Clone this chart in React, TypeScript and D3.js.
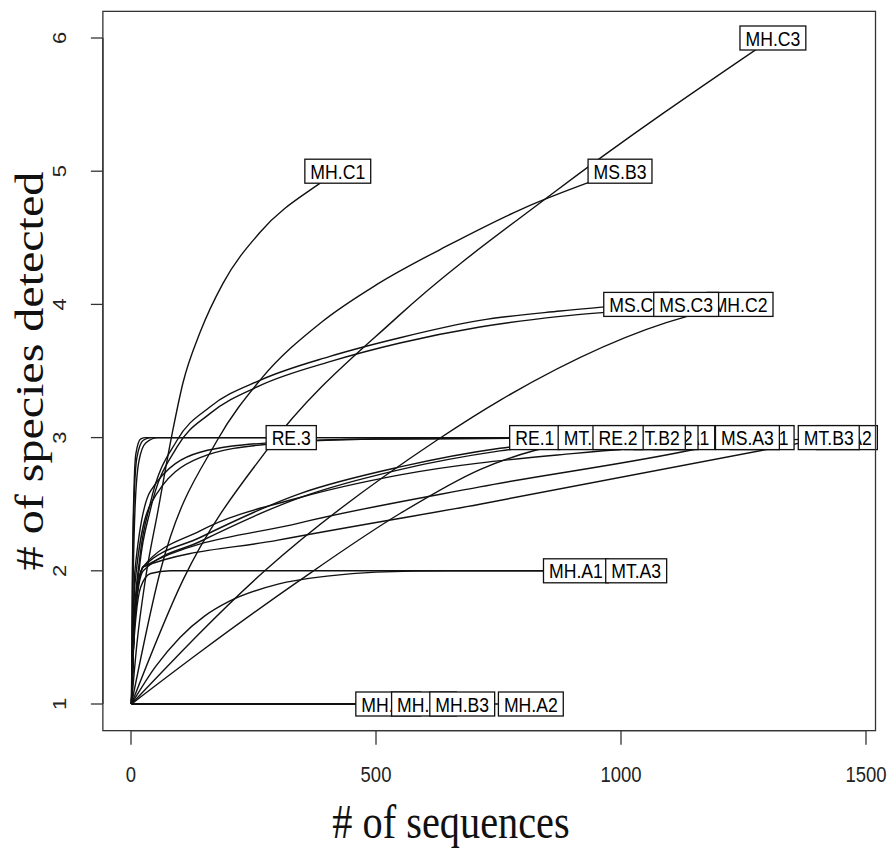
import React, { useEffect, useRef } from "react";
import * as d3 from "d3";

type Pt = [number, number];

// axis ticks
const xTicks = [0, 500, 1000, 1500];
const yTicks = [1, 2, 3, 4, 5, 6];

// rarefaction curves: [# of sequences, # of species]
const mhC1: Pt[] = [[1, 1], [12, 1.45], [30, 1.95], [55, 2.45], [84, 3.03], [106, 3.41], [141, 3.79], [188, 4.16], [263, 4.54], [386, 4.91], [422, 5]];
const msB3: Pt[] = [[1, 1], [60, 2.0], [176, 2.98], [263, 3.43], [390, 3.87], [502, 4.15], [651, 4.45], [794, 4.71], [998, 5]];
const mhC3: Pt[] = [[1, 1], [106, 1.93], [278, 2.91], [545, 3.91], [863, 4.84], [1310, 6]];
const msC2: Pt[] = [[1, 1], [6, 1.6], [18, 2.1], [39, 2.5], [94, 2.98], [161, 3.23], [263, 3.43], [406, 3.61], [549, 3.75], [712, 3.88], [876, 3.95], [1031, 4]];
const mhC2: Pt[] = [[1, 1], [273, 2.0], [624, 2.98], [753, 3.28], [1135, 3.91], [1243, 4]];
const msC3: Pt[] = [[1, 1], [6, 1.55], [18, 2.05], [39, 2.45], [94, 2.93], [161, 3.18], [263, 3.39], [406, 3.57], [549, 3.71], [712, 3.83], [876, 3.91], [1031, 3.96], [1133, 4]];
const re3: Pt[] = [[1, 1], [3, 2.0], [6, 2.6], [10, 2.88], [20, 2.99], [30, 3], [327, 3]];
const re1: Pt[] = [[1, 1], [3, 1.9], [6, 2.5], [12, 2.85], [25, 2.98], [40, 3], [824, 3]];
const mtC2: Pt[] = [[1, 1], [141, 1.39], [345, 1.93], [549, 2.43], [712, 2.76], [935, 3]];
const mtA1: Pt[] = [[1, 1], [8, 2.0], [40, 2.6], [141, 2.89], [278, 2.96], [500, 2.99], [1129, 3]];
const msA2: Pt[] = [[1, 1], [8, 1.65], [25, 2.0], [141, 2.22], [345, 2.55], [549, 2.76], [753, 2.9], [1092, 3]];
const mtB2: Pt[] = [[1, 1], [8, 1.7], [25, 2.03], [141, 2.25], [345, 2.58], [549, 2.78], [753, 2.92], [1069, 3]];
const re2: Pt[] = [[1, 1], [4, 1.85], [8, 2.45], [16, 2.82], [30, 2.96], [55, 3], [994, 3]];
const msB1: Pt[] = [[1, 1], [8, 1.9], [40, 2.5], [141, 2.85], [278, 2.95], [500, 2.99], [1288, 3]];
const msA3: Pt[] = [[1, 1], [8, 1.65], [25, 2.03], [345, 2.36], [712, 2.63], [1161, 2.92], [1258, 3]];
const mtA2: Pt[] = [[1, 1], [8, 1.7], [25, 2.03], [141, 2.3], [345, 2.55], [549, 2.72], [900, 2.88], [1200, 2.96], [1461, 3]];
const mtB3: Pt[] = [[1, 1], [8, 1.65], [25, 2.03], [300, 2.23], [712, 2.5], [1424, 3]];
const mhA1: Pt[] = [[1, 1], [5, 1.4], [10, 1.65], [20, 1.88], [40, 1.98], [80, 2], [908, 2]];
const mtA3: Pt[] = [[1, 1], [50, 1.28], [100, 1.5], [150, 1.66], [200, 1.77], [300, 1.9], [400, 1.96], [500, 1.99], [650, 2], [1031, 2]];
const mhB1: Pt[] = [[1, 1], [525, 1]];
const mhB2: Pt[] = [[1, 1], [598, 1]];
const mhB3: Pt[] = [[1, 1], [676, 1]];
const mhA2: Pt[] = [[1, 1], [816, 1]];

// sample order (labels are drawn in this order, later ones on top)
const samples = [
  { name: "MH.C1", pts: mhC1 },
  { name: "MS.B3", pts: msB3 },
  { name: "MH.C3", pts: mhC3 },
  { name: "MS.C2", pts: msC2 },
  { name: "MH.C2", pts: mhC2 },
  { name: "MS.C3", pts: msC3 },
  { name: "RE.3", pts: re3 },
  { name: "RE.1", pts: re1 },
  { name: "MT.C2", pts: mtC2 },
  { name: "MT.A1", pts: mtA1 },
  { name: "MS.A2", pts: msA2 },
  { name: "MT.B2", pts: mtB2 },
  { name: "RE.2", pts: re2 },
  { name: "MS.B1", pts: msB1 },
  { name: "MS.A3", pts: msA3 },
  { name: "MT.A2", pts: mtA2 },
  { name: "MT.B3", pts: mtB3 },
  { name: "MH.A1", pts: mhA1 },
  { name: "MT.A3", pts: mtA3 },
  { name: "MH.B1", pts: mhB1 },
  { name: "MH.B2", pts: mhB2 },
  { name: "MH.B3", pts: mhB3 },
  { name: "MH.A2", pts: mhA2 },
];

const SANS = "'Liberation Sans', Arial, Helvetica, sans-serif";
const SERIF = "'Liberation Serif', 'Times New Roman', Times, serif";
const SQUEEZE = 0.84; // the picture is squeezed horizontally

function drawChart(svgEl: SVGSVGElement) {
  const svg = d3.select(svgEl);
  svg.selectAll("*").remove();

  const x = d3.scaleLinear().domain([0, 1500]).range([131, 866]);
  const y = d3.scaleLinear().domain([1, 6]).range([704, 38]);

  // R style 4% padding around the data range
  const nMax = d3.max(samples, (s) => s.pts[s.pts.length - 1][0]) as number;
  const xLo = 1 - 0.04 * (nMax - 1);
  const xHi = nMax + 0.04 * (nMax - 1);
  const yLo = 1 - 0.04 * 5;
  const yHi = 6 + 0.04 * 5;

  const left = x(xLo);
  const right = x(xHi);
  const top = y(yHi);
  const bottom = y(yLo);

  // curves
  const line = d3
    .line<Pt>()
    .x((d) => x(d[0]))
    .y((d) => y(d[1]))
    .curve(d3.curveMonotoneX);

  svg
    .append("g")
    .selectAll("path")
    .data(samples)
    .enter()
    .append("path")
    .attr("d", (d) => line(d.pts))
    .attr("fill", "none")
    .attr("stroke", "#111")
    .attr("stroke-width", 1.4);

  // labels: white boxes centred on each curve end
  const lab = svg.append("g");
  samples.forEach((s) => {
    const end = s.pts[s.pts.length - 1];
    const g = lab.append("g").attr("transform", `translate(${x(end[0])},${y(end[1])})`);
    const rect = g.append("rect");
    const t = g
      .append("text")
      .attr("transform", `scale(${SQUEEZE},1)`)
      .attr("text-anchor", "middle")
      .attr("dy", "0.36em")
      .style("font-family", SANS)
      .style("font-size", "21px")
      .style("fill", "#000")
      .text(s.name);
    const w = (t.node() as SVGTextElement).getComputedTextLength() * SQUEEZE + 11;
    rect
      .attr("x", -w / 2)
      .attr("y", -12)
      .attr("width", w)
      .attr("height", 24)
      .attr("fill", "#fff")
      .attr("stroke", "#111")
      .attr("stroke-width", 1.3);
  });

  // plot box
  svg
    .append("rect")
    .attr("x", left)
    .attr("y", top)
    .attr("width", right - left)
    .attr("height", bottom - top)
    .attr("fill", "none")
    .attr("stroke", "#333")
    .attr("stroke-width", 1.3);

  // x axis
  const ax = svg.append("g").attr("stroke", "#333").attr("stroke-width", 1.3);
  ax.append("line").attr("x1", x(0)).attr("x2", x(1500)).attr("y1", bottom).attr("y2", bottom);
  xTicks.forEach((t) => {
    ax.append("line").attr("x1", x(t)).attr("x2", x(t)).attr("y1", bottom).attr("y2", bottom + 14);
    svg
      .append("g")
      .attr("transform", `translate(${x(t)},${bottom + 51}) scale(${SQUEEZE},1)`)
      .append("text")
      .attr("text-anchor", "middle")
      .style("font-family", SANS)
      .style("font-size", "22px")
      .style("fill", "#222")
      .text(t);
  });

  // y axis
  ax.append("line").attr("x1", left).attr("x2", left).attr("y1", y(1)).attr("y2", y(6));
  yTicks.forEach((t) => {
    ax.append("line").attr("x1", left).attr("x2", left - 12).attr("y1", y(t)).attr("y2", y(t));
    svg
      .append("g")
      .attr("transform", `translate(${left - 37},${y(t)}) rotate(-90) scale(1,${SQUEEZE})`)
      .append("text")
      .attr("text-anchor", "middle")
      .style("font-family", SANS)
      .style("font-size", "22px")
      .style("fill", "#222")
      .text(t);
  });

  // axis titles
  svg
    .append("g")
    .attr("transform", `translate(451,838) scale(${SQUEEZE},1)`)
    .append("text")
    .attr("text-anchor", "middle")
    .style("font-family", SERIF)
    .style("font-size", "48px")
    .style("fill", "#111")
    .text("# of sequences");

  svg
    .append("g")
    .attr("transform", `translate(43,${(top + bottom) / 2}) rotate(-90) scale(1,${SQUEEZE})`)
    .append("text")
    .attr("text-anchor", "middle")
    .style("font-family", SERIF)
    .style("font-size", "48px")
    .style("fill", "#111")
    .text("# of species detected");
}

export default function App() {
  const ref = useRef<SVGSVGElement>(null);

  useEffect(() => {
    if (ref.current) drawChart(ref.current);
  }, []);

  return (
    <svg
      ref={ref}
      width={890}
      height={849}
      style={{ position: "absolute", left: 0, top: 0, background: "#fff" }}
    />
  );
}
